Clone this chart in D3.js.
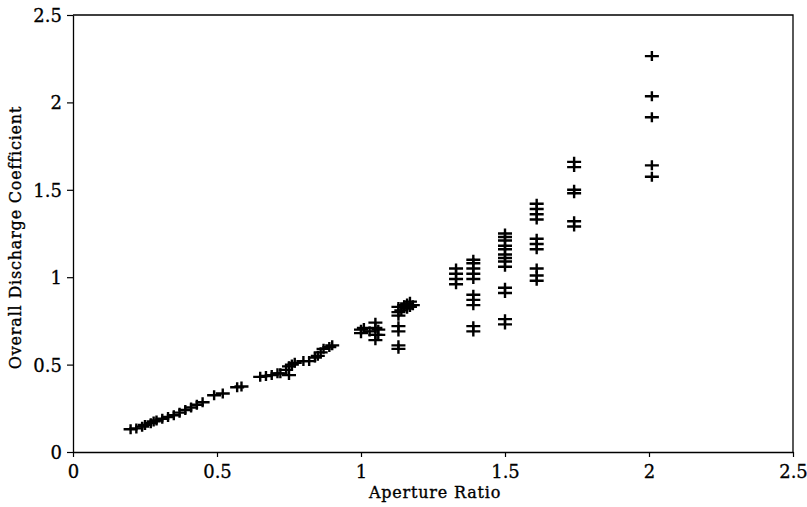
<!DOCTYPE html>
<html>
<head>
<meta charset="utf-8">
<script src="https://cdn.jsdelivr.net/npm/d3@7"></script>
<style>
  body { margin: 0; background: #fff; }
  .axis-title { font-family: "DejaVu Serif", serif; font-size: 16px; letter-spacing: 0.8px; fill: #000; stroke: #000; stroke-width: 0.35px; }
</style>
</head>
<body>
<div id="wrapper"></div>
<script>
// data, grouped by aperture-ratio clusters
const lowRatio = [0.20, 0.22, 0.24, 0.25, 0.27, 0.28, 0.29, 0.31, 0.33, 0.35, 0.37, 0.39, 0.41, 0.43, 0.45, 0.49, 0.52, 0.57, 0.585]
const lowCoef  = [0.13, 0.135, 0.145, 0.155, 0.165, 0.175, 0.18, 0.19, 0.20, 0.21, 0.225, 0.24, 0.255, 0.27, 0.285, 0.325, 0.335, 0.37, 0.375]

const midRatio = [0.65, 0.67, 0.69, 0.71, 0.72, 0.74, 0.75, 0.76, 0.75, 0.77, 0.80, 0.82, 0.84, 0.85, 0.86, 0.87, 0.89, 0.90]
const midCoef  = [0.43, 0.435, 0.44, 0.45, 0.45, 0.47, 0.49, 0.50, 0.44, 0.51, 0.52, 0.52, 0.54, 0.55, 0.57, 0.59, 0.60, 0.61]

const oneRatio = [1.00, 1.00, 1.01, 1.03, 1.05, 1.05, 1.05, 1.05, 1.06, 1.06]
const oneCoef  = [0.68, 0.70, 0.71, 0.69, 0.74, 0.71, 0.67, 0.64, 0.70, 0.67]

const r115Ratio = [1.13, 1.13, 1.13, 1.14, 1.15, 1.16, 1.16, 1.17, 1.17, 1.18, 1.13, 1.13, 1.13, 1.13]
const r115Coef  = [0.83, 0.80, 0.78, 0.81, 0.84, 0.85, 0.82, 0.83, 0.86, 0.84, 0.72, 0.69, 0.61, 0.59]

const r133Ratio = [1.33, 1.33, 1.33, 1.33]
const r133Coef  = [1.05, 1.02, 0.99, 0.96]

const r139Ratio = [1.39, 1.39, 1.39, 1.39, 1.39, 1.39, 1.39, 1.39, 1.39, 1.39]
const r139Coef  = [1.10, 1.08, 1.05, 1.02, 0.99, 0.90, 0.87, 0.84, 0.72, 0.69]

const r150Ratio = [1.50, 1.50, 1.50, 1.50, 1.50, 1.50, 1.50, 1.50, 1.50, 1.50, 1.50, 1.50, 1.50]
const r150Coef  = [1.25, 1.23, 1.21, 1.18, 1.16, 1.13, 1.11, 1.09, 1.06, 0.94, 0.91, 0.76, 0.73]

const r161Ratio = [1.61, 1.61, 1.61, 1.61, 1.61, 1.61, 1.61, 1.61, 1.61, 1.61]
const r161Coef  = [1.42, 1.39, 1.36, 1.33, 1.22, 1.19, 1.16, 1.05, 1.01, 0.98]

const r174Ratio = [1.74, 1.74, 1.74, 1.74, 1.74, 1.74]
const r174Coef  = [1.66, 1.63, 1.50, 1.48, 1.32, 1.29]

const r200Ratio = [2.01, 2.01, 2.01, 2.01, 2.01]
const r200Coef  = [2.265, 2.035, 1.915, 1.64, 1.575]

const xTicks = [0, 0.5, 1, 1.5, 2, 2.5]
const yTicks = [0, 0.5, 1, 1.5, 2, 2.5]

function drawScatter() {
    const groups = [
        [lowRatio, lowCoef], [midRatio, midCoef], [oneRatio, oneCoef],
        [r115Ratio, r115Coef], [r133Ratio, r133Coef], [r139Ratio, r139Coef],
        [r150Ratio, r150Coef], [r161Ratio, r161Coef], [r174Ratio, r174Coef],
        [r200Ratio, r200Coef],
    ]
    let dataset = []
    groups.forEach(([xs, ys]) => xs.forEach((x, i) => dataset.push({ ratio: x, coef: ys[i] })))

    const xAccessor = d => d.ratio
    const yAccessor = d => d.coef

    let dimensions = {
        width: 807,
        height: 507,
        margin: { top: 15, right: 14, bottom: 55, left: 73 },
    }
    dimensions.boundedWidth = dimensions.width - dimensions.margin.left - dimensions.margin.right
    dimensions.boundedHeight = dimensions.height - dimensions.margin.top - dimensions.margin.bottom

    const wrapper = d3.select("#wrapper")
        .append("svg")
        .attr("width", dimensions.width)
        .attr("height", dimensions.height)

    const bounds = wrapper.append("g")
        .attr("transform", `translate(${dimensions.margin.left},${dimensions.margin.top})`)

    const xScale = d3.scaleLinear()
        .domain([0, 2.5])
        .range([0, dimensions.boundedWidth])

    const yScale = d3.scaleLinear()
        .domain([0, 2.5])
        .range([dimensions.boundedHeight, 0])

    // frame (top and right)
    bounds.append("path")
        .attr("d", `M0,0H${dimensions.boundedWidth}V${dimensions.boundedHeight}`)
        .attr("fill", "none")
        .attr("stroke", "#000")
        .attr("stroke-width", 1.3)

    // axes
    const xAxis = bounds.append("g")
        .attr("transform", `translate(0,${dimensions.boundedHeight})`)
        .call(d3.axisBottom(xScale).tickValues(xTicks).tickFormat(d3.format("")).tickSize(5).tickSizeOuter(0).tickPadding(6))
    const yAxis = bounds.append("g")
        .call(d3.axisLeft(yScale).tickValues(yTicks).tickFormat(d3.format("")).tickSize(6).tickSizeOuter(0).tickPadding(5))

    ;[xAxis, yAxis].forEach(a => {
        a.attr("font-family", "DejaVu Serif").attr("font-size", 18)
        a.select(".domain").attr("stroke", "#000").attr("stroke-width", 1.3)
        a.selectAll(".tick line").attr("stroke", "#000").attr("stroke-width", 1.2)
        a.selectAll(".tick text").attr("fill", "#000").attr("stroke", "#000").attr("stroke-width", 0.3)
    })
    xAxis.selectAll(".tick text").attr("dy", "0.85em")
    yAxis.selectAll(".tick text").attr("dy", "0.36em")

    // plus markers
    const hw = 7, hh = 5
    bounds.append("g")
        .selectAll("path")
        .data(dataset)
        .join("path")
        .attr("d", d => {
            const cx = xScale(xAccessor(d)), cy = yScale(yAccessor(d))
            return `M${cx - hw},${cy}H${cx + hw}M${cx},${cy - hh}V${cy + hh}`
        })
        .attr("stroke", "#000")
        .attr("stroke-width", 2.4)
        .attr("fill", "none")

    // axis titles
    wrapper.append("text")
        .attr("class", "axis-title")
        .attr("x", dimensions.margin.left + xScale(1.5) - 70)
        .attr("y", 498)
        .attr("text-anchor", "middle")
        .text("Aperture Ratio")

    wrapper.append("text")
        .attr("class", "axis-title")
        .attr("transform", `translate(21,${dimensions.margin.top + dimensions.boundedHeight / 2 + 4}) rotate(-90)`)
        .attr("text-anchor", "middle")
        .text("Overall Discharge Coefficient")
}

drawScatter()
</script>
</body>
</html>
